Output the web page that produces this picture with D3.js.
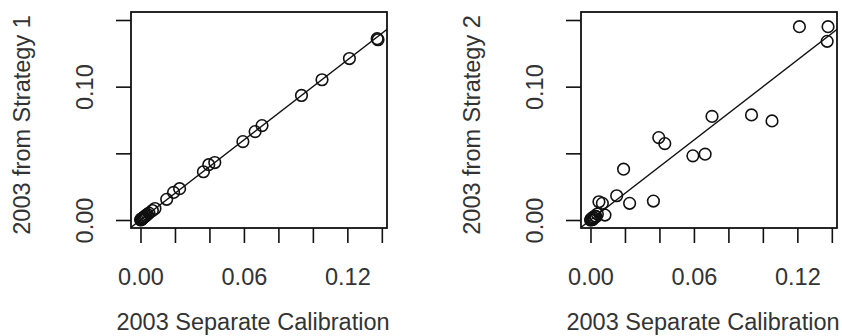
<!DOCTYPE html>
<html>
<head>
<meta charset="utf-8">
<script src="https://cdn.jsdelivr.net/npm/d3@7"></script>
<style>
  html, body { margin: 0; padding: 0; background: #fff; }
  svg { display: block; }
  text { font-family: "Liberation Sans", Arial, sans-serif; fill: #333; }
</style>
</head>
<body>
<svg id="chart" width="842" height="336"></svg>
<script>
// shared x: 2003 Separate Calibration
const separateCalibration = [0.1373, 0.1378, 0.1212, 0.1053, 0.0934, 0.0705, 0.0665, 0.0594, 0.0431, 0.0396, 0.0365, 0.0227, 0.0192, 0.0152, 0.0084, 0.0069, 0.0049,
  0.0040, 0.0032, 0.0026, 0.0020, 0.0015, 0.0010, 0.0006, 0.0002, 0.0001, 0.0004, 0.0008, 0.0012];
// 2003 from Strategy 1
const strategy1 = [0.1360, 0.1352, 0.1211, 0.1052, 0.0934, 0.0708, 0.0663, 0.0588, 0.0431, 0.0415, 0.0362, 0.0235, 0.0207, 0.0155, 0.0086, 0.0071, 0.0052,
  0.0042, 0.0034, 0.0027, 0.0021, 0.0016, 0.0011, 0.0006, 0.0002, 0.0001, 0.0004, 0.0008, 0.0013];
// 2003 from Strategy 2
const strategy2 = [0.1340, 0.1450, 0.1450, 0.0743, 0.0788, 0.0777, 0.0494, 0.0481, 0.0573, 0.0618, 0.0142, 0.0125, 0.0381, 0.0182, 0.0037, 0.0125, 0.0137,
  0.0045, 0.0025, 0.0030, 0.0015, 0.0020, 0.0005, 0.0010, 0.0003, 0.0000, 0.0002, 0.0006, 0.0004];

const xTicks = [0, 0.02, 0.04, 0.06, 0.08, 0.10, 0.12, 0.14];
const xTickLabels = ["0.00", "", "", "0.06", "", "", "0.12", ""];
const yTicks = [0, 0.05, 0.10, 0.15];
const yTickLabels = ["0.00", "", "0.10", ""];
const xTitle = "2003 Separate Calibration";
const yTitles = ["2003 from Strategy 1", "2003 from Strategy 2"];

const svg = d3.select("#chart");
const fontSize = 23.5;
const panels = [
  { left: 131, ys: strategy1, title: yTitles[0] },
  { left: 581, ys: strategy2, title: yTitles[1] }
];
const boxTop = 12, boxBottom = 228, pw = 256;
const xDomain = [-0.0055, 0.143], yDomain = [-0.006, 0.156];

panels.forEach((p, pi) => {
  const x = d3.scaleLinear().domain(xDomain).range([p.left, p.left + pw]);
  const y = d3.scaleLinear().domain(yDomain).range([boxBottom, boxTop]);
  const g = svg.append("g");
  const clipId = "clip" + pi;
  svg.append("clipPath").attr("id", clipId).append("rect")
    .attr("x", p.left).attr("y", boxTop).attr("width", pw).attr("height", boxBottom - boxTop);

  // 1:1 line
  g.append("line")
    .attr("clip-path", `url(#${clipId})`)
    .attr("x1", x(xDomain[0] - 0.01)).attr("y1", y(xDomain[0] - 0.01))
    .attr("x2", x(xDomain[1] + 0.01)).attr("y2", y(xDomain[1] + 0.01))
    .attr("stroke", "#111").attr("stroke-width", 1.4);

  // points
  g.selectAll("circle.pt").data(separateCalibration.map((v, i) => [v, p.ys[i]]))
    .join("circle").attr("class", "pt")
    .attr("cx", d => x(d[0])).attr("cy", d => y(d[1])).attr("r", 5.8)
    .attr("fill", "none").attr("stroke", "#111").attr("stroke-width", 1.6);

  // box
  g.append("rect").attr("x", p.left).attr("y", boxTop).attr("width", pw).attr("height", boxBottom - boxTop)
    .attr("fill", "none").attr("stroke", "#111").attr("stroke-width", 1.8);

  // x axis
  const xa = d3.axisBottom(x).tickValues(xTicks).tickSize(15).tickSizeOuter(0)
    .tickFormat((d, i) => xTickLabels[i]);
  const gx = g.append("g").attr("transform", `translate(0,${boxBottom})`).call(xa);
  gx.select(".domain").remove();
  gx.selectAll(".tick line").attr("stroke", "#111").attr("stroke-width", 1.6);
  gx.selectAll(".tick text").attr("font-size", fontSize).attr("fill", "#333")
    .attr("dy", null).attr("y", 57).attr("font-family", "Liberation Sans, Arial, sans-serif");

  // y axis
  const ya = d3.axisLeft(y).tickValues(yTicks).tickSize(15).tickSizeOuter(0)
    .tickFormat((d, i) => yTickLabels[i]);
  const gy = g.append("g").attr("transform", `translate(${p.left},0)`).call(ya);
  gy.select(".domain").remove();
  gy.selectAll(".tick line").attr("stroke", "#111").attr("stroke-width", 1.6);
  gy.selectAll(".tick text").attr("font-size", fontSize).attr("fill", "#333")
    .attr("x", null).attr("dy", null).attr("text-anchor", "middle")
    .attr("font-family", "Liberation Sans, Arial, sans-serif")
    .attr("transform", "translate(-38,0) rotate(-90)");

  // titles
  g.append("text").attr("x", p.left + pw / 2 - 6).attr("y", 330)
    .attr("text-anchor", "middle").attr("font-size", fontSize).text(xTitle);
  g.append("text")
    .attr("transform", `translate(${p.left - 101},${(boxTop + boxBottom) / 2 + 5}) rotate(-90)`)
    .attr("text-anchor", "middle").attr("font-size", fontSize).text(p.title);
});
</script>
</body>
</html>
